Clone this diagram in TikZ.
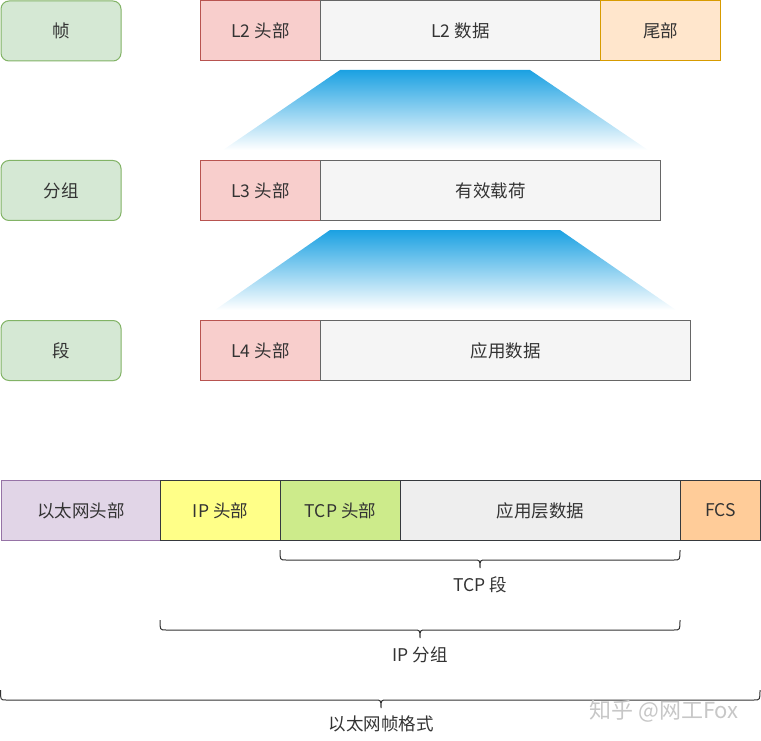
\documentclass[tikz,border=0pt]{standalone}
\usepackage{fontspec}
\setmainfont{Noto Sans CJK SC}
\definecolor{gfill}{HTML}{D5E8D4}\definecolor{gline}{HTML}{82B366}
\definecolor{rfill}{HTML}{F8CECC}\definecolor{rline}{HTML}{B85450}
\definecolor{sfill}{HTML}{F5F5F5}\definecolor{sline}{HTML}{666666}
\definecolor{ofill}{HTML}{FFE6CC}\definecolor{oline}{HTML}{D79B00}
\definecolor{pfill}{HTML}{E1D5E7}\definecolor{pline}{HTML}{9673A6}
\definecolor{yfill}{HTML}{FFFF88}\definecolor{kline}{HTML}{36393D}
\definecolor{lgfill}{HTML}{CDEB8B}\definecolor{efill}{HTML}{EEEEEE}
\definecolor{fcsfill}{HTML}{FFCC99}\definecolor{blu}{HTML}{1BA1E2}
\definecolor{txt}{HTML}{333333}
\begin{document}
\begin{tikzpicture}[x=1pt,y=-1pt,
  every node/.style={font=\fontsize{17.5}{20}\selectfont, text=txt, inner sep=0pt},
  cell/.style={draw, line width=1pt, minimum height=60pt, anchor=north west},
  lbl/.style={cell, rounded corners=8pt, fill=gfill, draw=gline, minimum width=120pt},
  hdr/.style={cell, fill=rfill, draw=rline},
  dat/.style={cell, fill=sfill, draw=sline},
  br/.style={line width=1pt, draw=txt}]
\useasboundingbox (0,0) rectangle (761,741);
% gradients
\shade[top color=blu, bottom color=white] (340,70) -- (530,70) -- (648,150) -- (223,150) -- cycle;
\shade[top color=blu, bottom color=white] (330,230) -- (560,230) -- (676,310) -- (215,310) -- cycle;
% row 1
\node[lbl] (fr) at (0.5,0.5) {帧};
\node[hdr, minimum width=120pt] (l2h) at (200,0.5) {L2 头部};
\node[dat, minimum width=280pt] (l2d) at (320,0.5) {L2 数据};
\node[cell, fill=ofill, draw=oline, minimum width=120pt] (tail) at (600,0.5) {尾部};
% row 2
\node[lbl] (pk) at (0.5,160) {分组};
\node[hdr, minimum width=120pt] (l3h) at (200,160) {L3 头部};
\node[dat, minimum width=340pt] (l3d) at (320,160) {有效载荷};
% row 3
\node[lbl] (sg) at (0.5,320) {段};
\node[hdr, minimum width=120pt] (l4h) at (200,320) {L4 头部};
\node[dat, minimum width=370pt] (l4d) at (320,320) {应用数据};
% ethernet row
\node[cell, fill=pfill, draw=pline, minimum width=160pt] (eth) at (0.5,480) {以太网头部};
\node[cell, fill=yfill, draw=kline, minimum width=120pt] (iph) at (160,480) {IP 头部};
\node[cell, fill=lgfill, draw=kline, minimum width=120pt] (tcph) at (280,480) {TCP 头部};
\node[cell, fill=efill, draw=kline, minimum width=280pt] (app) at (400,480) {应用层数据};
\node[cell, fill=fcsfill, draw=kline, minimum width=80pt] (fcs) at (680,480) {FCS};
% braces
\draw[br] (280,550) .. controls (280,560) .. (286,560) -- (474,560) .. controls (480,560) .. (480,568)
  .. controls (480,560) .. (486,560) -- (674,560) .. controls (680,560) .. (680,550);
\node (tcpseg) at (480,585) {TCP 段};
\draw[br] (160,620) .. controls (160,630) .. (166,630) -- (414,630) .. controls (420,630) .. (420,638)
  .. controls (420,630) .. (426,630) -- (674,630) .. controls (680,630) .. (680,620);
\node (ippk) at (420,655) {IP 分组};
\draw[br] (0.5,690) .. controls (0.5,700) .. (6,700) -- (375,700) .. controls (381,700) .. (381,708)
  .. controls (381,700) .. (387,700) -- (754,700) .. controls (760,700) .. (760,690);
\node (ethfmt) at (381,724) {以太网帧格式};
% watermark
\node[text=black!22, font=\fontsize{22}{24}\selectfont] (wm) at (664,711) {知乎 @网工Fox};
\end{tikzpicture}
\end{document}
